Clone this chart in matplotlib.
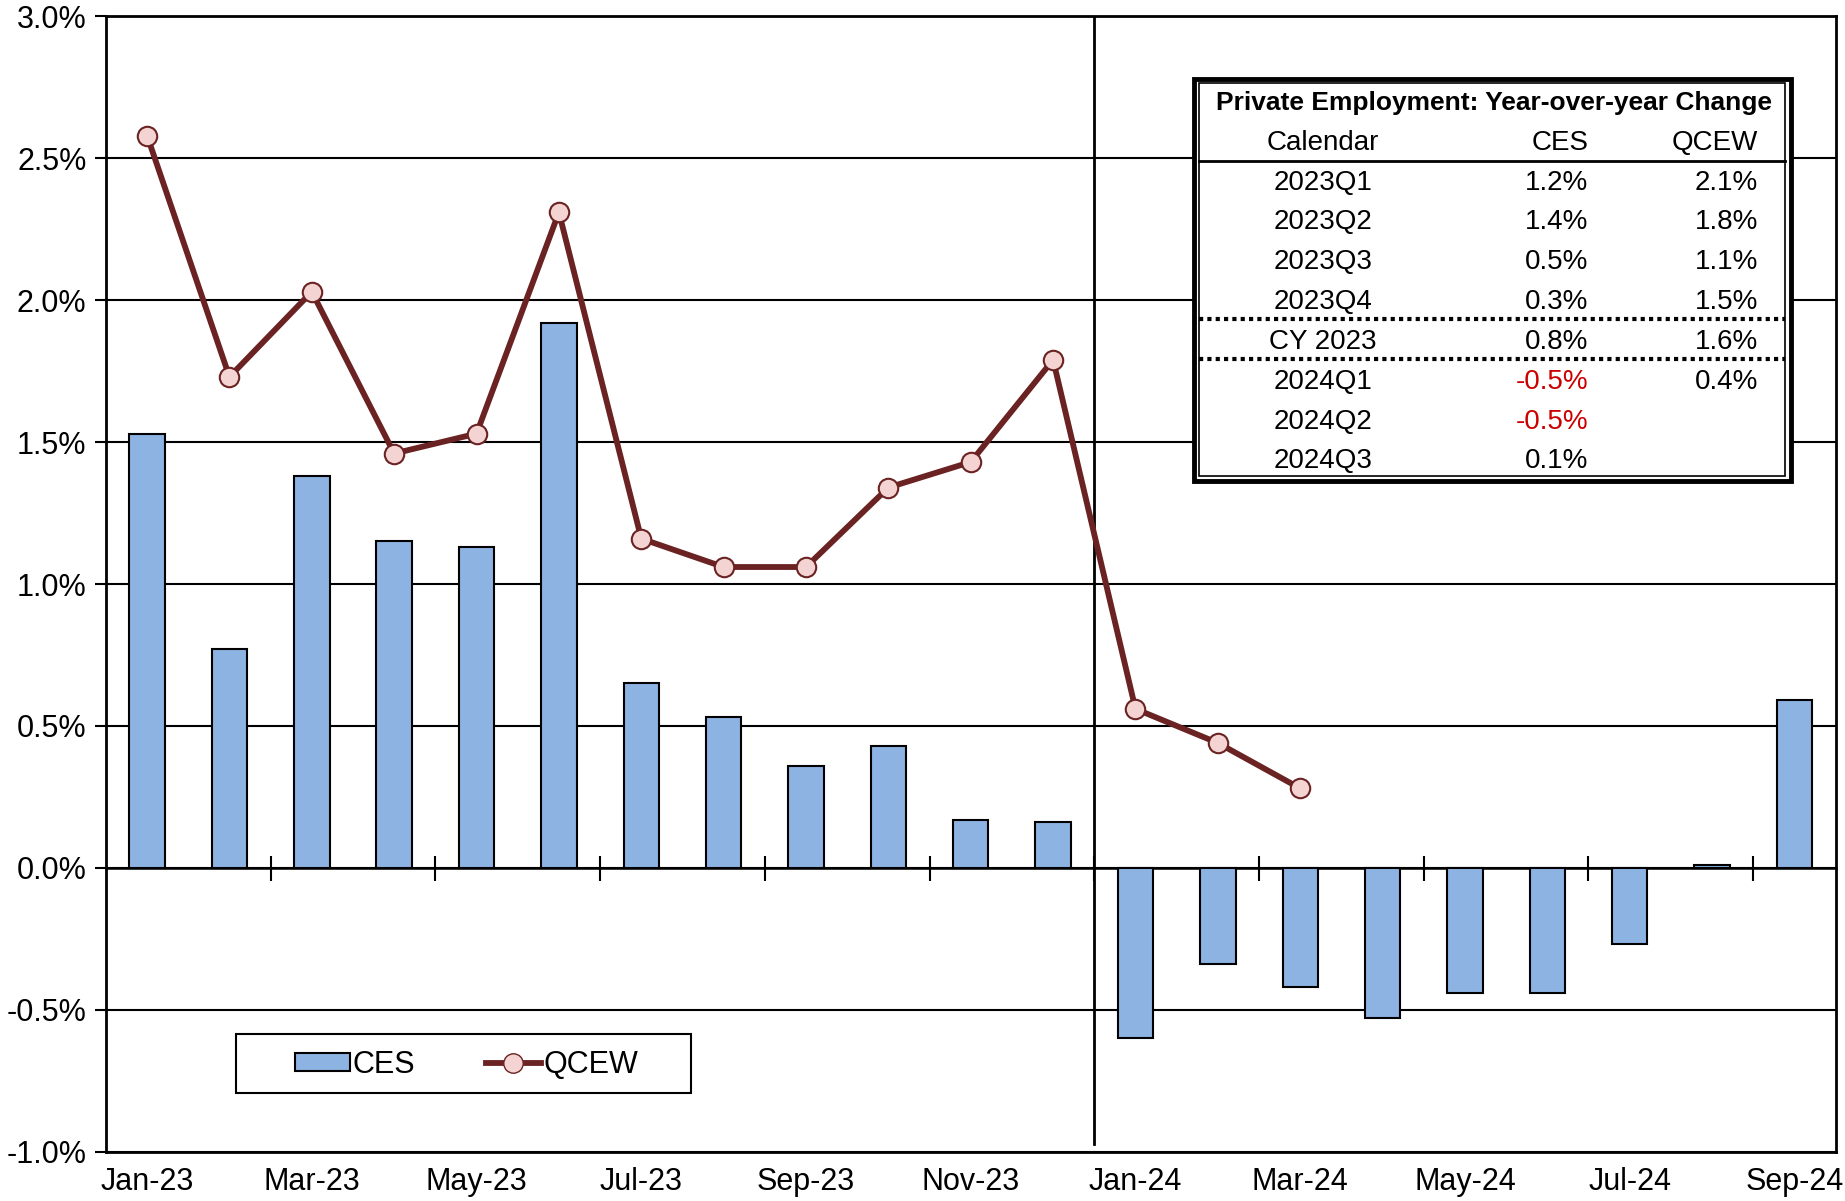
import numpy as np
import matplotlib
matplotlib.use("Agg")
from matplotlib import pyplot as plt
from matplotlib.patches import Rectangle, Patch
from matplotlib.lines import Line2D

plt.rcParams['font.family'] = ['Liberation Sans Narrow', 'Liberation Sans', 'DejaVu Sans']

# months on the category axis
months = ['Jan-23', 'Feb-23', 'Mar-23', 'Apr-23', 'May-23', 'Jun-23', 'Jul-23',
          'Aug-23', 'Sep-23', 'Oct-23', 'Nov-23', 'Dec-23', 'Jan-24', 'Feb-24',
          'Mar-24', 'Apr-24', 'May-24', 'Jun-24', 'Jul-24', 'Aug-24', 'Sep-24']

# year-over-year change, percent
ces = [1.53, 0.77, 1.38, 1.15, 1.13, 1.92, 0.65, 0.53, 0.36, 0.43, 0.17, 0.16,
       -0.60, -0.34, -0.42, -0.53, -0.44, -0.44, -0.27, 0.01, 0.59]
qcew = [2.58, 1.73, 2.03, 1.46, 1.53, 2.31, 1.16, 1.06, 1.06, 1.34, 1.43, 1.79,
        0.56, 0.44, 0.28]

# inset table
tbl_title = 'Private Employment: Year-over-year Change'
tbl_header = ['Calendar', 'CES', 'QCEW']
tbl_period = ['2023Q1', '2023Q2', '2023Q3', '2023Q4', 'CY 2023', '2024Q1', '2024Q2', '2024Q3']
tbl_ces = ['1.2%', '1.4%', '0.5%', '0.3%', '0.8%', '-0.5%', '-0.5%', '0.1%']
tbl_qcew = ['2.1%', '1.8%', '1.1%', '1.5%', '1.6%', '0.4%', '', '']

bar_col = '#8DB3E2'
line_col = '#6B2222'
mark_col = '#F4D3D3'
fs = 22
tfs = 20

fig = plt.figure(figsize=(18.45, 12.01), dpi=100)
ax = fig.add_axes([0.0574, 0.0411, 0.9375, 0.9452])

x = np.arange(len(months))
ax.bar(x, ces, width=0.43, color=bar_col, edgecolor='black', linewidth=1.5, zorder=3)
ax.plot(np.arange(len(qcew)), qcew, color=line_col, lw=4.2, marker='o', ms=14,
        markerfacecolor=mark_col, markeredgecolor=line_col, markeredgewidth=1.5, zorder=4)

ax.set_xlim(-0.5, len(months) - 0.5)
ax.set_ylim(-1.0, 3.0)
ax.set_yticks(np.arange(-1.0, 3.01, 0.5))
ax.set_yticklabels(['{:.1f}%'.format(v) for v in np.arange(-1.0, 3.01, 0.5)], fontsize=fs)
ax.tick_params(axis='y', length=8, width=1.5, pad=6)
ax.yaxis.grid(True, color='black', lw=1.5)
ax.set_axisbelow(True)

ax.set_xticks(x[::2])
ax.set_xticklabels(months[::2], fontsize=fs)
ax.tick_params(axis='x', length=0, pad=11)
for s in ax.spines.values():
    s.set_linewidth(2)

# category axis crossing at zero, ticks between every second month
zero_loc = (0 - ax.get_ylim()[0]) / (ax.get_ylim()[1] - ax.get_ylim()[0])
sec = ax.secondary_xaxis(zero_loc)
sec.set_xticks(np.arange(1.5, len(months) - 0.5, 2))
sec.tick_params(axis='x', direction='inout', length=18, width=1.5, labelbottom=False)
sec.spines['bottom'].set_linewidth(1.8)

# divider between 2023 and 2024
ax.axvline(11.5, ymin=0.007, color='black', lw=2, zorder=2)

# legend
ax.add_patch(Rectangle((0.0755, 0.0518), 0.2625, 0.0518, transform=ax.transAxes,
                       facecolor='white', edgecolor='black', lw=1.5, zorder=5))
handles = [Patch(facecolor=bar_col, edgecolor='black', lw=1.5),
           Line2D([], [], color=line_col, lw=4.2, marker='o', ms=14,
                  markerfacecolor=mark_col, markeredgecolor=line_col)]
leg = ax.legend(handles, ['CES', 'QCEW'], loc='center', bbox_to_anchor=(0.2085, 0.0765),
                ncol=2, frameon=False, fontsize=fs, handlelength=1.8, handletextpad=0.1,
                columnspacing=2.3, handleheight=0.5)
leg.set_zorder(6)

# table
x0, x1, y0, y1 = 0.629, 0.974, 0.591, 0.945
ax.add_patch(Rectangle((x0, y0), x1 - x0, y1 - y0, transform=ax.transAxes,
                       facecolor='white', edgecolor='black', lw=3.5, zorder=5))
ax.add_patch(Rectangle((x0 + 0.003, y0 + 0.004), x1 - x0 - 0.006, y1 - y0 - 0.008,
                       transform=ax.transAxes, facecolor='none', edgecolor='black',
                       lw=1.2, zorder=5))
cx = [0.7034, 0.857, 0.955]
ax.text(0.8027, 0.9234, tbl_title, transform=ax.transAxes, ha='center', va='center',
        fontsize=19, fontweight='bold', zorder=6)
ax.text(cx[0], 0.8882, tbl_header[0], transform=ax.transAxes, ha='center', va='center',
        fontsize=tfs, zorder=6)
ax.text(cx[1], 0.8882, tbl_header[1], transform=ax.transAxes, ha='right', va='center',
        fontsize=tfs, zorder=6)
ax.text(cx[2], 0.8882, tbl_header[2], transform=ax.transAxes, ha='right', va='center',
        fontsize=tfs, zorder=6)
ax.plot([x0 + 0.003, x1 - 0.003], [0.8725, 0.8725], transform=ax.transAxes,
        color='black', lw=2, zorder=6)
row_y = [0.8529, 0.8187, 0.7835, 0.7483, 0.7130, 0.6778, 0.6426, 0.6084]
for yy, p, c, q in zip(row_y, tbl_period, tbl_ces, tbl_qcew):
    ax.text(cx[0], yy, p, transform=ax.transAxes, ha='center', va='center', fontsize=tfs, zorder=6)
    ax.text(cx[1], yy, c, transform=ax.transAxes, ha='right', va='center', fontsize=tfs,
            color='#CC0000' if c.startswith('-') else 'black', zorder=6)
    ax.text(cx[2], yy, q, transform=ax.transAxes, ha='right', va='center', fontsize=tfs, zorder=6)
for yy in [0.7337, 0.6984]:
    ax.plot([x0 + 0.003, x1 - 0.003], [yy, yy], transform=ax.transAxes, color='black',
            lw=3, dashes=(1, 1), zorder=6)

fig.savefig('out.png', dpi=100)
